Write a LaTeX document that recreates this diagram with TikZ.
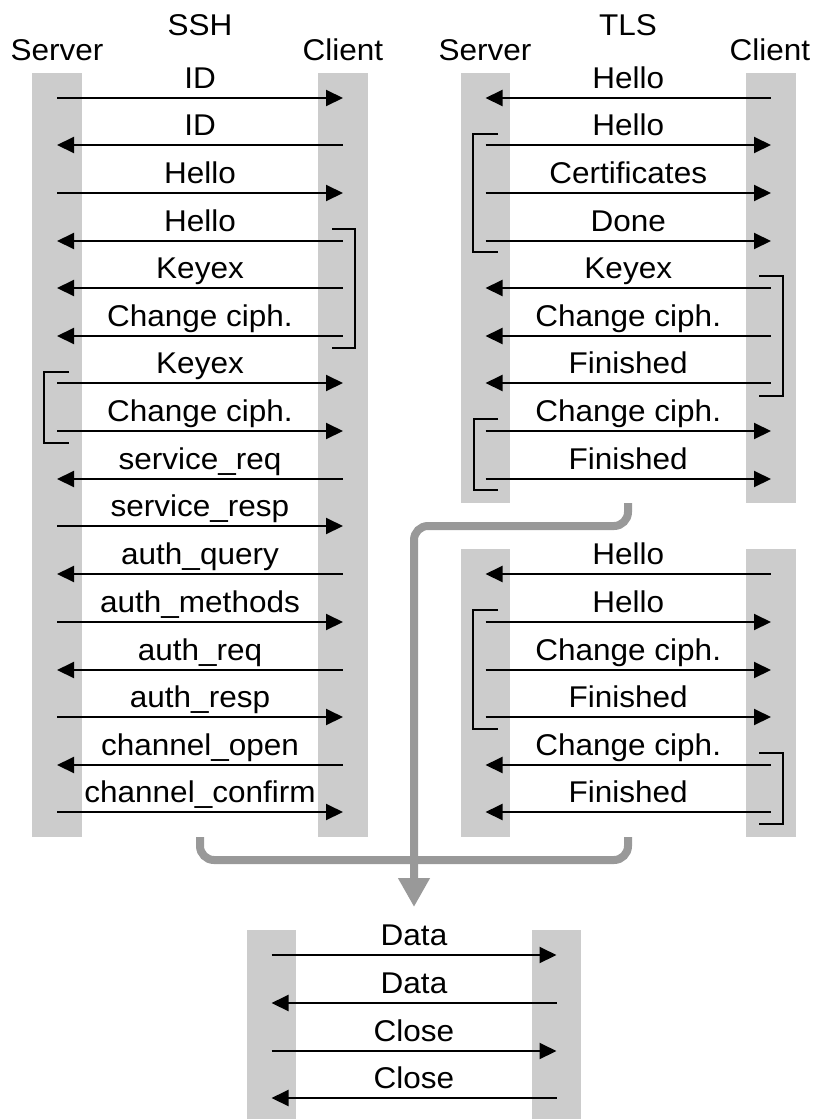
\documentclass[tikz,border=0pt]{standalone}
\usepackage{fontspec}
\setmainfont{Liberation Sans}[FakeStretch=1.05]
\usetikzlibrary{arrows.meta}
\definecolor{barfill}{HTML}{CCCCCC}
\definecolor{flowgray}{HTML}{999999}
\tikzset{
  lifeline/.style={fill=barfill, draw=none, inner sep=0pt, outer sep=0pt, anchor=north west},
  msg/.style={line width=2pt},
  toclient/.style={-{Triangle[length=17pt,width=16pt]}},
  toserver/.style={{Triangle[length=17pt,width=16pt]}-},
  msglabel/.style={midway, anchor=base, yshift=10pt, inner sep=0pt,
    font=\fontsize{30}{32}\selectfont},
  headlabel/.style={anchor=base, inner sep=0pt, font=\fontsize{30}{32}\selectfont},
  bracketline/.style={line width=2pt},
  flow/.style={line width=8pt, draw=flowgray, rounded corners=14pt},
}
\begin{document}
\begin{tikzpicture}[x=1pt, y=-1pt]
\useasboundingbox (0,0) rectangle (815,1119);

% lifelines
\node[lifeline, minimum width=50pt, minimum height=764pt] (sshS) at (32,73) {};
\node[lifeline, minimum width=50pt, minimum height=764pt] (sshC) at (318,73) {};
\node[lifeline, minimum width=49pt, minimum height=430pt] (tlsS) at (461,73) {};
\node[lifeline, minimum width=50pt, minimum height=430pt] (tlsC) at (746,73) {};
\node[lifeline, minimum width=49pt, minimum height=288pt] (resS) at (461,549) {};
\node[lifeline, minimum width=50pt, minimum height=288pt] (resC) at (746,549) {};
\node[lifeline, minimum width=49pt, minimum height=189pt] (datS) at (247,930) {};
\node[lifeline, minimum width=49pt, minimum height=189pt] (datC) at (532,930) {};

% headings
\node[headlabel] (sshT) at (200,35) {SSH};
\node[headlabel] (sshSL) at (57,60) {Server};
\node[headlabel] (sshCL) at (343,60) {Client};
\node[headlabel] (tlsT) at (628,35) {TLS};
\node[headlabel] (tlsSL) at (485,60) {Server};
\node[headlabel] (tlsCL) at (770,60) {Client};

% SSH exchange
\foreach \y/\d/\t in {98/toclient/ID, 145/toserver/ID, 193/toclient/Hello,
    241/toserver/Hello, 288/toserver/Keyex, 336/toserver/Change ciph.,
    383/toclient/Keyex, 431/toclient/Change ciph., 479/toserver/service\_req,
    526/toclient/service\_resp, 574/toserver/auth\_query,
    622/toclient/auth\_methods, 670/toserver/auth\_req, 717/toclient/auth\_resp,
    765/toserver/channel\_open, 812/toclient/channel\_confirm}{
  \coordinate (a) at (sshS.center |- 0,\y);
  \coordinate (b) at (sshC.center |- 0,\y);
  \draw[msg, \d] (a) -- node[msglabel] {\t} (b);
}

% TLS full handshake
\foreach \y/\d/\t in {98/toserver/Hello, 145/toclient/Hello,
    193/toclient/Certificates, 241/toclient/Done, 288/toserver/Keyex,
    336/toserver/Change ciph., 383/toserver/Finished,
    431/toclient/Change ciph., 479/toclient/Finished}{
  \coordinate (a) at (tlsS.center |- 0,\y);
  \coordinate (b) at (tlsC.center |- 0,\y);
  \draw[msg, \d] (a) -- node[msglabel] {\t} (b);
}

% TLS resumed handshake
\foreach \y/\d/\t in {574/toserver/Hello, 622/toclient/Hello,
    670/toclient/Change ciph., 717/toclient/Finished,
    765/toserver/Change ciph., 812/toserver/Finished}{
  \coordinate (a) at (resS.center |- 0,\y);
  \coordinate (b) at (resC.center |- 0,\y);
  \draw[msg, \d] (a) -- node[msglabel] {\t} (b);
}

% data transfer
\foreach \y/\d/\t in {955/toclient/Data, 1003/toserver/Data,
    1051/toclient/Close, 1098/toserver/Close}{
  \coordinate (a) at (datS.center |- 0,\y);
  \coordinate (b) at (datC.center |- 0,\y);
  \draw[msg, \d] (a) -- node[msglabel] {\t} (b);
}

% grouping brackets
\draw[bracketline] (332,229) -| (355,348) -- (332,348);
\draw[bracketline] (69,372) -| (44,443) -- (69,443);
\draw[bracketline] (498,134) -| (473,252) -- (498,252);
\draw[bracketline] (759,276) -| (783,396) -- (759,396);
\draw[bracketline] (498,419) -| (474,490) -- (498,490);
\draw[bracketline] (498,610) -| (473,729) -- (498,729);
\draw[bracketline] (759,753) -| (783,824) -- (759,824);

% flow into the data phase
\coordinate (join) at (414,860);
\draw[flow] (sshS.south -| 200,0) -- (200,860) -- (join);
\draw[flow] (resS.south -| 628,0) -- (628,860) -- (join);
\draw[flow, -{Triangle[length=29pt,width=30pt]}]
  (tlsS.south -| 628,0) -- (628,526) -- (414,526) -- (414,907);
\end{tikzpicture}
\end{document}
